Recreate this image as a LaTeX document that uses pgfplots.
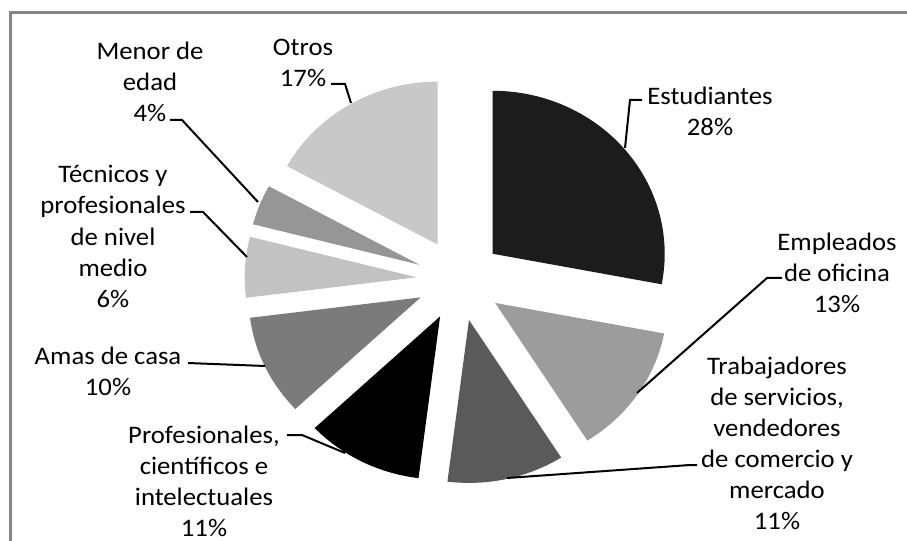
\documentclass[border=0pt]{standalone}
\usepackage{pgfplots}
\pgfplotsset{compat=1.18}
\usepackage{pgfplotstable}
\usepackage{fontspec}
\setmainfont{Carlito}[FakeStretch=1.06]
\definecolor{c0}{HTML}{1C1C1C}
\definecolor{c1}{HTML}{9C9C9C}
\definecolor{c2}{HTML}{5A5A5A}
\definecolor{c3}{HTML}{000000}
\definecolor{c4}{HTML}{7B7B7B}
\definecolor{c5}{HTML}{C2C2C2}
\definecolor{c6}{HTML}{969696}
\definecolor{c7}{HTML}{C8C8C8}
\definecolor{framegray}{HTML}{868686}
\newcommand\lbl{\fontsize{18.9pt}{23.3pt}\selectfont}

\pgfplotstableread[col sep=comma]{
label,value
Estudiantes,28
Empleados de oficina,13
Trabajadores de servicios,11
Profesionales,11
Amas de casa,10
Tecnicos,6
Menor de edad,4
Otros,17
}\piedata

\begin{document}
\begin{tikzpicture}
\begin{axis}[
  x=0.75pt, y=0.75pt,
  xmin=0, xmax=907, ymin=0, ymax=541,
  y dir=reverse,
  hide axis, clip=false,
]
% frame
\draw[framegray, line width=2.25pt] (axis cs:10,600) -- (axis cs:10,13) -- (axis cs:950,13);
% slices
\gdef\cum{0}
\pgfplotsforeachungrouped \i in {0,...,7}{%
  \pgfplotstablegetelem{\i}{value}\of\piedata
  \let\val\pgfplotsretval
  \pgfmathsetmacro{\st}{\cum}%
  \pgfmathsetmacro{\en}{\cum+\val}%
  \pgfmathsetmacro{\md}{1.8*(\st+\en)}%
  \pgfmathsetmacro{\vx}{459.6+43*sin(\md)}%
  \pgfmathsetmacro{\vy}{279.9-41*cos(\md)}%
  \edef\temp{\noexpand\addplot[fill=c\i, draw=none, domain=\st:\en, samples=40] ({\vx+172*sin(3.6*x)}, {\vy-163*cos(3.6*x)}) -- (axis cs:\vx,\vy) -- cycle;}%
  \temp
  \xdef\cum{\en}%
}
% leader lines
\addplot[black, line width=1.5pt] coordinates {(642,100) (630,100) (625,148)};
\addplot[black, line width=1.5pt] coordinates {(782,278) (767,278) (637,393)};
\addplot[black, line width=1.5pt] coordinates {(697,465) (690,465) (507,478)};
\addplot[black, line width=1.5pt] coordinates {(287,435) (302,435) (345,453)};
\addplot[black, line width=1.5pt] coordinates {(188,363) (265,366)};
\addplot[black, line width=1.5pt] coordinates {(190,212) (203,212) (247,257)};
\addplot[black, line width=1.5pt] coordinates {(170,120) (182,120) (258,202)};
\addplot[black, line width=1.5pt] coordinates {(331,84) (345,84) (351,103)};
% labels
\node[align=center, font=\lbl] at (axis cs:710,111) {Estudiantes\\28\%};
\node[align=center, font=\lbl] at (axis cs:837,272.5) {Empleados\\de oficina\\13\%};
\node[align=center, font=\lbl] at (axis cs:777,443.5) {Trabajadores\\de servicios,\\vendedores\\de comercio y\\mercado\\11\%};
\node[align=center, font=\lbl] at (axis cs:204,481) {Profesionales,\\científicos e\\intelectuales\\11\%};
\node[align=center, font=\lbl] at (axis cs:108,371.5) {Amas de casa\\10\%};
\node[align=center, font=\lbl] at (axis cs:113,236.5) {Técnicos y\\profesionales\\de nivel\\medio\\6\%};
\node[align=center, font=\lbl] at (axis cs:150,82) {Menor de\\edad\\4\%};
\node[align=center, font=\lbl] at (axis cs:303,62.5) {Otros\\17\%};
\end{axis}
\pgfresetboundingbox
\useasboundingbox (current axis.south west) rectangle (current axis.north east);
\end{tikzpicture}
\end{document}
